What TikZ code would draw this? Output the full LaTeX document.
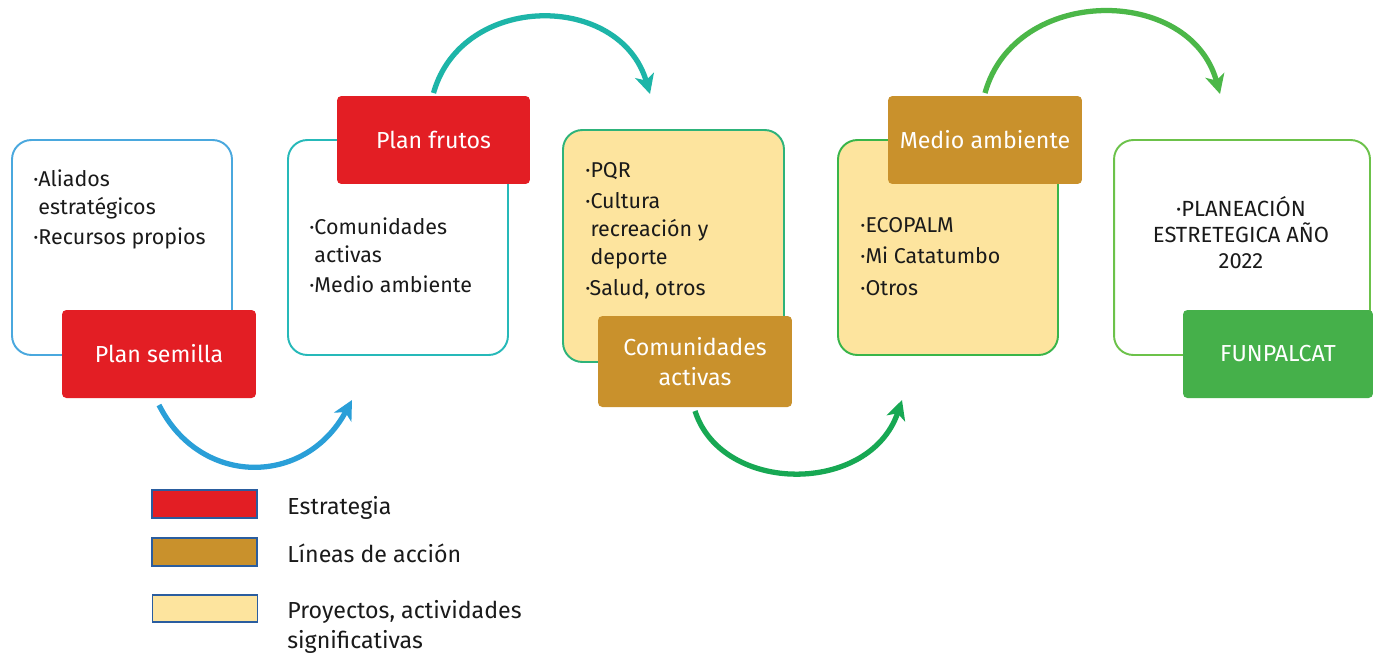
\documentclass[tikz,border=0pt]{standalone}
\usepackage{fontspec}
\setmainfont{Fira Sans}
\usetikzlibrary{arrows.meta,calc}
\definecolor{cred}{HTML}{E31E24}
\definecolor{cbrown}{HTML}{C9912C}
\definecolor{cyellow}{HTML}{FDE49E}
\definecolor{cgreen}{HTML}{45B04A}
\definecolor{cblue}{HTML}{4AA8DE}
\definecolor{cteal}{HTML}{26B9B9}
\definecolor{cgteal}{HTML}{2DB37A}
\definecolor{cgreenb}{HTML}{39B54A}
\definecolor{clgreen}{HTML}{6CC24A}
\definecolor{legb}{HTML}{2A5D9F}
\definecolor{a1c}{HTML}{2A9FD8}
\definecolor{a2c}{HTML}{1DB5A8}
\definecolor{a3c}{HTML}{17A853}
\definecolor{a4c}{HTML}{4BB748}
\definecolor{txt}{HTML}{1A1A1A}
\newcommand{\bodyfont}{\fontsize{12.2}{16}\selectfont}
\newcommand{\labfont}{\fontsize{13.2}{17}\selectfont}
\newcommand{\ind}{\phantom{·}}
\begin{document}
\begin{tikzpicture}[x=0.02cm,y=-0.02cm,
  outbox/.style={draw, line width=1.1pt, rounded corners=11pt, inner sep=0pt, outer sep=0pt},
  labbox/.style={rounded corners=2.5pt, inner sep=0pt, outer sep=0pt, text=white, font=\labfont, align=center},
  bodytxt/.style={inner sep=0pt, anchor=north west, align=left, font=\bodyfont, text=txt},
  legbox/.style={draw=legb, line width=1.1pt, inner sep=0pt, minimum width=2.1cm, minimum height=0.56cm},
  legtxt/.style={inner sep=0pt, anchor=west, align=left, font=\labfont, text=txt},
  arr/.style={line width=3pt, -{Stealth[length=11pt,width=11pt,inset=3pt]}}
]
\useasboundingbox[fill=white] (0,0) rectangle (1379,653);

% outline boxes
\node[outbox, draw=cblue, minimum width=4.4cm, minimum height=4.3cm] (box1) at (122,247.5) {};
\node[outbox, draw=cteal, minimum width=4.4cm, minimum height=4.3cm] (box2) at (398,247.5) {};
\node[outbox, draw=cgteal, fill=cyellow, minimum width=4.42cm, minimum height=4.64cm] (box3) at (673.5,246) {};
\node[outbox, draw=cgreenb, fill=cyellow, minimum width=4.4cm, minimum height=4.3cm] (box4) at (948,247.5) {};
\node[outbox, draw=clgreen, minimum width=5.12cm, minimum height=4.3cm] (box5) at (1242,247.5) {};

% body texts
\node[bodytxt] (t1) at (33,169) {·Aliados\\\ind estratégicos\\[1.5pt]·Recursos propios};
\node[bodytxt] (t2) at (309,217) {·Comunidades\\\ind activas\\[1.5pt]·Medio ambiente};
\node[bodytxt] (t3) at (585,162) {·PQR\\[1.5pt]·Cultura\\\ind recreación y\\\ind deporte\\[2pt]·Salud, otros};
\node[bodytxt] (t4) at (860,217) {·ECOPALM\\[1.5pt]·Mi Catatumbo\\[2.5pt]·Otros};
\node[bodytxt, anchor=north, align=center, font=\fontsize{12.5}{14.8}\selectfont] (t5) at (1241,196) {·PLANEACIÓN\\ESTRETEGICA AÑO\\2022};

% label boxes
\node[labbox, fill=cred, minimum width=3.88cm, minimum height=1.76cm] (semilla) at (159,354) {Plan semilla};
\node[labbox, fill=cred, minimum width=3.86cm, minimum height=1.76cm] (frutos) at (433.5,140) {Plan frutos};
\node[labbox, fill=cbrown, minimum width=3.88cm, minimum height=1.82cm] (comact) at (695,361.5) {Comunidades\\activas};
\node[labbox, fill=cbrown, minimum width=3.88cm, minimum height=1.76cm] (medamb) at (985,140) {Medio ambiente};
\node[labbox, fill=cgreen, minimum width=3.8cm, minimum height=1.76cm] (funpal) at (1278,354) {FUNPALCAT};

% arrow ends
\coordinate (e1) at (352,400);
\coordinate (e2) at (650,94);
\coordinate (e3) at (902,400);
\coordinate (e4) at (1220,94);

\draw[arr, draw=a1c] ($(semilla.south)+(0,7)$) .. controls (200,487) and (305,487) .. (e1);
\draw[arr, draw=a2c] ($(frutos.north)+(0,-3)$) .. controls (462,-8) and (620,-8) .. (e2);
\draw[arr, draw=a3c] ($(comact.south)+(0,4)$) .. controls (722,495) and (870,495) .. (e3);
\draw[arr, draw=a4c] ($(medamb.north)+(0,-3)$) .. controls (1015,-15) and (1190,-15) .. (e4);

% legend
\node[legbox, fill=cred] (l1) at (204.5,504) {};
\node[legbox, fill=cbrown] (l2) at (204.5,552) {};
\node[legbox, fill=cyellow, minimum height=0.54cm] (l3) at (205,608.5) {};
\node[legtxt] (lt1) at (287,508) {Estrategia};
\node[legtxt] (lt2) at (287,553) {Líneas de acción};
\node[legtxt, anchor=north west] (lt3) at (287,600) {Proyectos, actividades\\significativas};
\end{tikzpicture}
\end{document}
